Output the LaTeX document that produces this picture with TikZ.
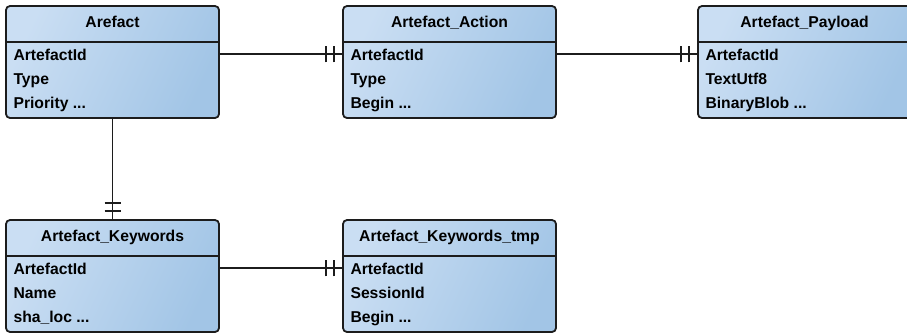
\documentclass[tikz,border=0pt]{standalone}
\usepackage{fontspec}
\setmainfont{Liberation Sans}
\usetikzlibrary{positioning,decorations.markings}
\definecolor{entlight}{RGB}{202,222,243}
\definecolor{entdark}{RGB}{162,197,230}
\definecolor{entline}{RGB}{28,28,28}
\newcommand\fielddots{...}
\tikzset{
  entity/.style={draw=entline, line width=1.8pt, rounded corners=4pt, outer sep=0pt,
    minimum width=213pt, minimum height=112pt, inner sep=0pt,
    left color=entlight, right color=entdark, shading angle=65},
  title/.style={font=\fontsize{15.7}{18}\selectfont\bfseries, anchor=base},
  field/.style={font=\fontsize{15.7}{18}\selectfont\bfseries, anchor=base west},
  rel/.style={draw=entline, line width=1.8pt},
  onlyone/.style={postaction={decorate}, decoration={markings,
    mark=at position -9pt with {\draw[rel] (0,-8pt) -- (0,8pt);},
    mark=at position -17pt with {\draw[rel] (0,-8pt) -- (0,8pt);}}}
}
\begin{document}
\begin{tikzpicture}[x=1pt,y=-1pt]
\clip (0,0) rectangle (907,333);

% Tables
\foreach \n/\x/\y/\t/\a/\b/\c in {
  arefact/112.5/62/Arefact/ArtefactId/Type/Priority \fielddots,
  action/449.5/62/Artefact\_Action/ArtefactId/Type/Begin \fielddots,
  payload/804.5/62/Artefact\_Payload/ArtefactId/TextUtf8/BinaryBlob \fielddots,
  keywords/112.5/276/Artefact\_Keywords/ArtefactId/Name/sha\_loc \fielddots,
  kwtmp/449.5/276/Artefact\_Keywords\_tmp/ArtefactId/SessionId/Begin \fielddots}{
  \node[entity] (\n) at (\x,\y) {};
  \node[title] (\n-t) at ([yshift=-21pt]\n.north) {\t};
  \draw[rel] ([yshift=-36pt]\n.north west) -- ([yshift=-36pt]\n.north east);
  \node[field] (\n-1) at ([xshift=4pt,yshift=-54pt]\n.north west) {\a};
  \node[field] (\n-2) at ([xshift=4pt,yshift=-78pt]\n.north west) {\b};
  \node[field] (\n-3) at ([xshift=4pt,yshift=-102pt]\n.north west) {\c};
}

% Relations
\draw[rel,onlyone] (arefact.east |- arefact-1) -- (action.west |- arefact-1);
\draw[rel,onlyone] (action.east |- action-1) -- (payload.west |- action-1);
\draw[rel,onlyone] (arefact.south) -- (keywords.north);
\draw[rel,onlyone] (keywords.east |- keywords-1) -- (kwtmp.west |- keywords-1);
\end{tikzpicture}
\end{document}
